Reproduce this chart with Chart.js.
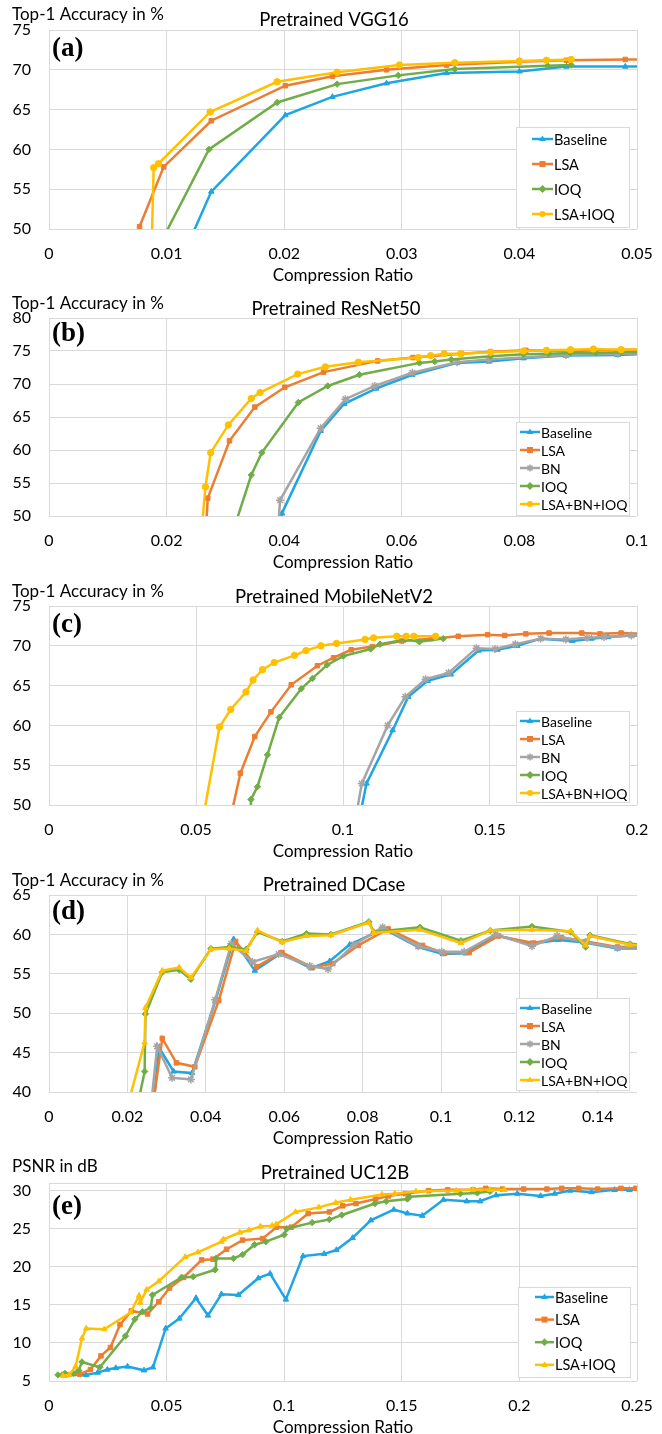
<!DOCTYPE html>
<html>
<head>
<meta charset="utf-8">
<script src="https://cdn.jsdelivr.net/npm/chart.js@4.4.0/dist/chart.umd.min.js"></script>
<style>
html, body { margin: 0; padding: 0; background: #fff; overflow: hidden; width: 662px; height: 1434px; }
canvas { position: absolute; left: 0; }
</style>
</head>
<body>
<canvas id="chartA" width="662" height="285" style="top:0px"></canvas>
<canvas id="chartB" width="662" height="284" style="top:288px"></canvas>
<canvas id="chartC" width="662" height="285" style="top:576px"></canvas>
<canvas id="chartD" width="662" height="283" style="top:865px"></canvas>
<canvas id="chartE" width="662" height="284" style="top:1153px"></canvas>
<script>
// ---- (a) VGG16 ----
const vggXTicks = [0, 0.01, 0.02, 0.03, 0.04, 0.05];
const vggYTicks = [50, 55, 60, 65, 70, 75];
const vggBaseline = [[0.0094,40],[0.0138,54.7],[0.0201,64.3],[0.0241,66.6],[0.0287,68.3],[0.0338,69.6],[0.0400,69.8],[0.0440,70.4],[0.0490,70.4],[0.0540,70.4]];
const vggLsa = [[0.0076,40],[0.0077,50.3],[0.00975,57.8],[0.0138,63.6],[0.0201,68.0],[0.0241,69.2],[0.0287,70.0],[0.0338,70.6],[0.0400,71.0],[0.0440,71.2],[0.0490,71.3],[0.0540,71.3]];
const vggIoq = [[0.0066,40],[0.0136,60.0],[0.0194,65.9],[0.0245,68.2],[0.0297,69.3],[0.0345,70.1],[0.0424,70.5],[0.0444,70.6]];
const vggLsaIoq = [[0.0086,40],[0.0089,57.7],[0.0093,58.2],[0.0137,64.7],[0.0194,68.5],[0.0245,69.7],[0.0298,70.6],[0.0345,70.9],[0.0400,71.1],[0.0423,71.2],[0.0444,71.3]];

// ---- (b) ResNet50 ----
const resXTicks = [0, 0.02, 0.04, 0.06, 0.08, 0.1];
const resYTicks = [50, 55, 60, 65, 70, 75, 80];
const resBaseline = [[0.0385,40],[0.0396,50.4],[0.0462,62.9],[0.0502,67.0],[0.0556,69.3],[0.0618,71.4],[0.0694,73.2],[0.0748,73.4],[0.0807,73.9],[0.0879,74.3],[0.0967,74.4],[0.105,74.7]];
const resLsa = [[0.0262,40],[0.0270,52.7],[0.0307,61.4],[0.0350,66.5],[0.0401,69.5],[0.0467,71.8],[0.0559,73.5],[0.0619,74.0],[0.0701,74.6],[0.0751,74.9],[0.0811,75.1],[0.0886,75.0],[0.0973,75.2],[0.105,75.2]];
const resBn = [[0.0383,40],[0.0393,52.4],[0.0462,63.3],[0.0504,67.7],[0.0554,69.7],[0.0618,71.7],[0.0694,73.3],[0.0748,73.7],[0.0879,74.4],[0.0967,74.6],[0.105,74.7]];
const resIoq = [[0.0285,40],[0.0344,56.2],[0.0362,59.6],[0.0424,67.2],[0.0474,69.7],[0.0528,71.4],[0.0630,73.2],[0.0656,73.4],[0.0684,73.7],[0.0751,74.2],[0.0807,74.5],[0.0850,74.6],[0.0887,74.7],[0.0930,74.7],[0.0973,74.8],[0.105,74.9]];
const resAll = [[0.0252,40],[0.0266,54.4],[0.0275,59.6],[0.0305,63.8],[0.0344,67.8],[0.0359,68.7],[0.0423,71.5],[0.0470,72.6],[0.0526,73.3],[0.0628,74.0],[0.0649,74.3],[0.0672,74.6],[0.0700,74.6],[0.0751,74.8],[0.0807,75.0],[0.0846,75.1],[0.0887,75.2],[0.0926,75.3],[0.0973,75.2],[0.105,75.3]];

// ---- (c) MobileNetV2 ----
const mobXTicks = [0, 0.05, 0.1, 0.15, 0.2];
const mobYTicks = [50, 55, 60, 65, 70, 75];
const mobBaseline = [[0.1010,40],[0.1080,52.7],[0.1169,59.4],[0.1222,63.6],[0.1288,65.6],[0.1367,66.4],[0.1461,69.4],[0.1525,69.5],[0.1593,70.0],[0.1672,70.9],[0.1780,70.6],[0.1845,70.9],[0.1902,71.1],[0.1981,71.3],[0.205,71.3]];
const mobLsa = [[0.0567,40],[0.0651,54.0],[0.0700,58.6],[0.0755,61.7],[0.0824,65.1],[0.0913,67.5],[0.0968,68.5],[0.1028,69.5],[0.1100,69.9],[0.1200,70.6],[0.1300,70.9],[0.1392,71.2],[0.1492,71.4],[0.1550,71.3],[0.1622,71.5],[0.1701,71.6],[0.1812,71.6],[0.1874,71.5],[0.1946,71.6],[0.205,71.5]];
const mobBn = [[0.1003,40],[0.1064,52.7],[0.1152,60.0],[0.1212,63.6],[0.1281,65.8],[0.1359,66.6],[0.1454,69.7],[0.1517,69.6],[0.1586,70.2],[0.1672,70.9],[0.1758,70.8],[0.1830,71.0],[0.1888,71.1],[0.1981,71.3],[0.205,71.3]];
const mobIoq = [[0.0683,40],[0.0687,50.7],[0.0709,52.3],[0.0743,56.3],[0.0783,61.0],[0.0858,64.6],[0.0896,65.9],[0.0946,67.6],[0.1001,68.7],[0.1094,69.6],[0.1126,70.2],[0.1212,70.8],[0.1260,70.5],[0.1341,70.9]];
const mobAll = [[0.0483,40],[0.0580,59.8],[0.0618,62.0],[0.0670,64.2],[0.0694,65.7],[0.0726,67.0],[0.0766,67.9],[0.0835,68.8],[0.0874,69.4],[0.0925,70.0],[0.0978,70.3],[0.1075,70.8],[0.1104,71.0],[0.1183,71.2],[0.1215,71.2],[0.1241,71.2],[0.1315,71.2]];

// ---- (d) DCase ----
const dcXTicks = [0, 0.02, 0.04, 0.06, 0.08, 0.1, 0.12, 0.14];
const dcYTicks = [40, 45, 50, 55, 60, 65];
const dcBaseline = [[0.0250,30],[0.0281,45.6],[0.0318,42.6],[0.0365,42.4],[0.0424,51.5],[0.0471,59.4],[0.0525,55.4],[0.0592,57.6],[0.0669,55.7],[0.0716,56.6],[0.0767,58.7],[0.0854,60.7],[0.0942,58.4],[0.1005,57.5],[0.1063,57.6],[0.1139,59.9],[0.1228,58.8],[0.1299,59.3],[0.1363,59.0],[0.1450,58.2],[0.155,58.2]];
const dcLsa = [[0.0242,30],[0.0289,46.8],[0.0325,43.7],[0.0372,43.2],[0.0433,51.6],[0.0476,59.1],[0.0530,55.9],[0.0594,57.7],[0.0672,55.8],[0.0724,56.3],[0.0789,58.6],[0.0865,60.7],[0.0953,58.6],[0.1009,57.6],[0.1072,57.7],[0.1147,59.8],[0.1236,58.9],[0.1307,59.6],[0.1371,59.1],[0.1450,58.4],[0.155,58.5]];
const dcBn = [[0.0243,30],[0.0276,45.8],[0.0314,41.8],[0.0362,41.6],[0.0424,51.7],[0.0465,58.8],[0.0519,56.5],[0.0586,57.5],[0.0665,56.0],[0.0712,55.6],[0.0778,58.7],[0.0851,60.9],[0.0942,58.5],[0.1002,57.8],[0.1059,57.8],[0.1139,60.0],[0.1232,58.5],[0.1296,59.8],[0.1369,59.0],[0.1450,58.3],[0.155,58.4]];
const dcIoq = [[0.0191,30],[0.0244,42.6],[0.0246,49.9],[0.0289,55.2],[0.0332,55.5],[0.0362,54.3],[0.0413,58.2],[0.0460,58.4],[0.0503,58.1],[0.0532,60.3],[0.0595,59.1],[0.0657,60.1],[0.0719,60.0],[0.0816,61.6],[0.0829,60.3],[0.0946,60.9],[0.1051,59.2],[0.1126,60.5],[0.1232,61.0],[0.1331,60.3],[0.1369,58.4],[0.1380,59.9],[0.1482,58.8],[0.155,58.6]];
const dcAll = [[0.0156,30],[0.0244,46.3],[0.0246,50.7],[0.0289,55.4],[0.0332,55.8],[0.0362,54.5],[0.0413,58.1],[0.0460,58.2],[0.0503,57.9],[0.0532,60.5],[0.0595,59.0],[0.0657,59.8],[0.0719,59.9],[0.0816,61.5],[0.0829,60.2],[0.0946,60.6],[0.1051,58.9],[0.1126,60.5],[0.1232,60.6],[0.1331,60.4],[0.1369,58.6],[0.1380,59.8],[0.1482,58.7],[0.155,58.5]];

// ---- (e) UC12B ----
const ucXTicks = [0, 0.05, 0.1, 0.15, 0.2, 0.25];
const ucYTicks = [5, 10, 15, 20, 25, 30, 31];
const ucBaseline = [[0.0056,5.8],[0.0158,5.8],[0.0207,6.1],[0.0248,6.5],[0.0284,6.7],[0.0334,6.9],[0.0404,6.4],[0.0442,6.8],[0.0496,11.9],[0.0554,13.2],[0.0625,15.9],[0.0676,13.6],[0.0733,16.4],[0.0805,16.3],[0.0890,18.5],[0.0940,19.1],[0.1007,15.7],[0.1080,21.4],[0.1170,21.7],[0.1222,22.2],[0.1291,23.8],[0.1368,26.1],[0.1466,27.5],[0.1524,27.0],[0.1587,26.7],[0.1677,28.8],[0.1776,28.6],[0.1833,28.6],[0.1901,29.4],[0.1991,29.6],[0.2090,29.3],[0.2150,29.6],[0.2216,30.0],[0.2306,29.8],[0.2405,30.1],[0.2468,30.1],[0.255,30.2]];
const ucLsa = [[0.0068,5.8],[0.0131,5.9],[0.0176,6.5],[0.0221,8.3],[0.0261,9.4],[0.0302,12.4],[0.0350,14.2],[0.0419,13.8],[0.0467,15.4],[0.0512,17.2],[0.0572,18.6],[0.0649,20.9],[0.0697,21.0],[0.0755,22.3],[0.0823,23.5],[0.0908,23.7],[0.0967,25.2],[0.1030,25.2],[0.1102,27.0],[0.1192,27.2],[0.1249,28.0],[0.1305,28.3],[0.1389,28.9],[0.1443,29.3],[0.1515,29.6],[0.1614,30.0],[0.1695,30.1],[0.1803,30.1],[0.1857,30.3],[0.1928,30.2],[0.2018,30.2],[0.2117,30.2],[0.2180,30.3],[0.2252,30.3],[0.2333,30.2],[0.2432,30.3],[0.2495,30.3],[0.255,30.3]];
const ucIoq = [[0.0038,5.8],[0.0068,6.0],[0.0104,6.0],[0.0126,6.4],[0.0140,7.5],[0.0216,6.8],[0.0325,10.9],[0.0365,13.1],[0.0397,14.1],[0.0433,14.6],[0.0440,16.3],[0.0563,18.6],[0.0613,18.7],[0.0706,19.6],[0.0710,21.1],[0.0784,21.1],[0.0823,21.6],[0.0874,22.9],[0.0922,23.3],[0.1000,24.2],[0.1011,25.0],[0.1119,25.8],[0.1192,26.2],[0.1245,26.8],[0.1386,28.3],[0.1434,28.6],[0.1524,28.9],[0.1533,29.2],[0.1749,29.6],[0.1821,29.7],[0.1875,29.9]];
const ucLsaIoq = [[0.0059,5.7],[0.0086,5.8],[0.0113,6.9],[0.0140,10.6],[0.0158,11.9],[0.0235,11.8],[0.0347,14.0],[0.0383,16.2],[0.0388,15.3],[0.0415,17.0],[0.0467,18.1],[0.0579,21.3],[0.0633,21.9],[0.0733,23.3],[0.0742,23.6],[0.0811,24.5],[0.0850,24.8],[0.0899,25.3],[0.0949,25.4],[0.0967,25.6],[0.1048,27.2],[0.1147,27.8],[0.1219,28.4],[0.1282,28.8],[0.1416,29.5],[0.1470,29.6],[0.1560,29.9],[0.1731,30.0],[0.1803,30.1],[0.1875,30.1],[0.1937,30.1]];

const FONT = "Lato, 'Open Sans', sans-serif";
const TEXT = '#000';
const BLUE = '#1ea5e3', ORANGE = '#ed7d31', GRAY = '#a5a5a5', GREEN = '#70ad47', YELLOW = '#ffc000';

Chart.defaults.font.family = FONT;
Chart.defaults.color = TEXT;

function fmt(v) {
  return String(Math.round(v * 1000) / 1000);
}

function series(label, points, color, style) {
  return {
    label: label,
    data: points.map(p => ({ x: p[0], y: p[1] })),
    borderColor: color,
    backgroundColor: color,
    pointBackgroundColor: color,
    pointBorderColor: color,
    pointStyle: style,
    pointRadius: style === 'star' ? 4 : 3.2,
    pointBorderWidth: style === 'star' ? 1.5 : 1,
    borderWidth: 2.5,
    tension: 0
  };
}

function drawMarker(ctx, style, x, y, r, color) {
  ctx.save();
  ctx.fillStyle = color;
  ctx.strokeStyle = color;
  ctx.lineWidth = 1.5;
  ctx.beginPath();
  if (style === 'triangle') {
    ctx.moveTo(x, y - r * 1.2);
    ctx.lineTo(x + r * 1.1, y + r * 0.7);
    ctx.lineTo(x - r * 1.1, y + r * 0.7);
    ctx.closePath();
    ctx.fill();
  } else if (style === 'rect') {
    ctx.rect(x - r, y - r, 2 * r, 2 * r);
    ctx.fill();
  } else if (style === 'rectRot') {
    ctx.moveTo(x, y - r * 1.3);
    ctx.lineTo(x + r * 1.3, y);
    ctx.lineTo(x, y + r * 1.3);
    ctx.lineTo(x - r * 1.3, y);
    ctx.closePath();
    ctx.fill();
  } else if (style === 'star') {
    const s = r * 1.2;
    ctx.moveTo(x - s, y); ctx.lineTo(x + s, y);
    ctx.moveTo(x, y - s); ctx.lineTo(x, y + s);
    ctx.moveTo(x - s * 0.7, y - s * 0.7); ctx.lineTo(x + s * 0.7, y + s * 0.7);
    ctx.moveTo(x - s * 0.7, y + s * 0.7); ctx.lineTo(x + s * 0.7, y - s * 0.7);
    ctx.stroke();
  } else {
    ctx.arc(x, y, r, 0, Math.PI * 2);
    ctx.fill();
  }
  ctx.restore();
}

// legend box drawn inside the plot area
const insideLegend = {
  id: 'insideLegend',
  afterDraw(chart, args, o) {
    const ctx = chart.ctx;
    ctx.save();
    ctx.fillStyle = '#fff';
    ctx.fillRect(o.x, o.y, o.w, o.h);
    ctx.strokeStyle = '#d9d9d9';
    ctx.lineWidth = 1;
    ctx.strokeRect(o.x + 0.5, o.y + 0.5, o.w, o.h);
    ctx.font = o.fontSize + 'px ' + FONT;
    ctx.textBaseline = 'middle';
    ctx.textAlign = 'left';
    chart.data.datasets.forEach((ds, i) => {
      const y = o.rowY + i * o.rowGap;
      ctx.strokeStyle = ds.borderColor;
      ctx.lineWidth = 2.5;
      ctx.beginPath();
      ctx.moveTo(o.lineX, y);
      ctx.lineTo(o.lineX + o.lineW, y);
      ctx.stroke();
      drawMarker(ctx, ds.pointStyle, o.lineX + o.lineW / 2, y, 3, ds.borderColor);
      ctx.fillStyle = TEXT;
      ctx.fillText(ds.label, o.lineX + o.lineW + 1, y + 1);
    });
    ctx.restore();
  }
};

// axis unit label, chart title and panel letter
const panelText = {
  id: 'panelText',
  afterDraw(chart, args, o) {
    const ctx = chart.ctx;
    ctx.save();
    ctx.fillStyle = TEXT;
    ctx.textBaseline = 'middle';
    ctx.textAlign = 'left';
    ctx.font = '17px ' + FONT;
    ctx.fillText(o.yLabel, 12, o.yLabelY);
    ctx.textAlign = 'center';
    ctx.font = '18.5px ' + FONT;
    ctx.fillText(o.title, o.titleX, o.titleY);
    ctx.textAlign = 'left';
    ctx.font = "bold 27px 'Liberation Serif', 'DejaVu Serif', serif";
    ctx.fillText(o.letter, 52, o.letterY);
    ctx.restore();
  }
};

function makeChart(id, datasets, cfg) {
  datasets.forEach((d, i) => { d.order = datasets.length - i; });
  return new Chart(document.getElementById(id), {
    type: 'line',
    data: { datasets: datasets },
    options: {
      responsive: false,
      animation: false,
      events: [],
      layout: { padding: { top: 30, right: 25, left: 0, bottom: 0 } },
      scales: {
        x: {
          type: 'linear',
          min: 0,
          max: cfg.xMax,
          afterBuildTicks: s => { s.ticks = cfg.xTicks.map(v => ({ value: v })); },
          afterFit: s => { s.height = 56; s.paddingLeft = 0; s.paddingRight = 0; },
          grid: { color: '#d9d9d9', lineWidth: 1, drawTicks: false },
          border: { display: false },
          ticks: { padding: 15, font: { size: 16 }, maxRotation: 0, callback: v => fmt(v) },
          title: { display: true, text: 'Compression Ratio', font: { size: 17, lineHeight: 1.2 }, padding: { top: 0, bottom: -1 } }
        },
        y: {
          type: 'linear',
          min: cfg.yMin,
          max: cfg.yMax,
          afterBuildTicks: s => { s.ticks = cfg.yTicks.map(v => ({ value: v })); },
          afterFit: s => { s.width = 49; s.paddingTop = 0; s.paddingBottom = 0; },
          grid: { color: '#d9d9d9', lineWidth: 1, drawTicks: false },
          border: { display: false },
          ticks: { padding: 18, font: { size: 16 }, callback: v => (v % 5 === 0 ? String(v) : '') }
        }
      },
      plugins: {
        legend: { display: false },
        tooltip: { enabled: false },
        insideLegend: cfg.legend,
        panelText: cfg.text
      }
    },
    plugins: [insideLegend, panelText]
  });
}

makeChart('chartA', [
  series('Baseline', vggBaseline, BLUE, 'triangle'),
  series('LSA', vggLsa, ORANGE, 'rect'),
  series('IOQ', vggIoq, GREEN, 'rectRot'),
  series('LSA+IOQ', vggLsaIoq, YELLOW, 'circle')
], {
  xMax: 0.05, yMin: 50, yMax: 75, xTicks: vggXTicks, yTicks: vggYTicks,
  legend: { x: 516, y: 127, w: 113, h: 100, rowY: 139, rowGap: 25, lineX: 532, lineW: 21, fontSize: 14.5 },
  text: { yLabel: 'Top-1 Accuracy in %', yLabelY: 15, title: 'Pretrained VGG16', titleX: 334, titleY: 20, letter: '(a)', letterY: 49 }
});

makeChart('chartB', [
  series('Baseline', resBaseline, BLUE, 'triangle'),
  series('LSA', resLsa, ORANGE, 'rect'),
  series('BN', resBn, GRAY, 'star'),
  series('IOQ', resIoq, GREEN, 'rectRot'),
  series('LSA+BN+IOQ', resAll, YELLOW, 'circle')
], {
  xMax: 0.1, yMin: 50, yMax: 80, xTicks: resXTicks, yTicks: resYTicks,
  legend: { x: 516, y: 134, w: 113, h: 93, rowY: 144, rowGap: 18, lineX: 520, lineW: 20, fontSize: 14 },
  text: { yLabel: 'Top-1 Accuracy in %', yLabelY: 16, title: 'Pretrained ResNet50', titleX: 336, titleY: 21, letter: '(b)', letterY: 46 }
});

makeChart('chartC', [
  series('Baseline', mobBaseline, BLUE, 'triangle'),
  series('LSA', mobLsa, ORANGE, 'rect'),
  series('BN', mobBn, GRAY, 'star'),
  series('IOQ', mobIoq, GREEN, 'rectRot'),
  series('LSA+BN+IOQ', mobAll, YELLOW, 'circle')
], {
  xMax: 0.2, yMin: 50, yMax: 75, xTicks: mobXTicks, yTicks: mobYTicks,
  legend: { x: 516, y: 135, w: 113, h: 91, rowY: 145, rowGap: 18, lineX: 520, lineW: 20, fontSize: 14 },
  text: { yLabel: 'Top-1 Accuracy in %', yLabelY: 16, title: 'Pretrained MobileNetV2', titleX: 334, titleY: 21, letter: '(c)', letterY: 49 }
});

makeChart('chartD', [
  series('Baseline', dcBaseline, BLUE, 'triangle'),
  series('LSA', dcLsa, ORANGE, 'rect'),
  series('BN', dcBn, GRAY, 'star'),
  series('IOQ', dcIoq, GREEN, 'rectRot'),
  series('LSA+BN+IOQ', dcAll, YELLOW, 'triangle')
], {
  xMax: 0.15, yMin: 40, yMax: 65, xTicks: dcXTicks, yTicks: dcYTicks,
  legend: { x: 516, y: 133, w: 113, h: 92, rowY: 143, rowGap: 18, lineX: 520, lineW: 20, fontSize: 14 },
  text: { yLabel: 'Top-1 Accuracy in %', yLabelY: 16, title: 'Pretrained DCase', titleX: 334, titleY: 20, letter: '(d)', letterY: 47 }
});

makeChart('chartE', [
  series('Baseline', ucBaseline, BLUE, 'triangle'),
  series('LSA', ucLsa, ORANGE, 'rect'),
  series('IOQ', ucIoq, GREEN, 'rectRot'),
  series('LSA+IOQ', ucLsaIoq, YELLOW, 'triangle')
], {
  xMax: 0.25, yMin: 5, yMax: 31, xTicks: ucXTicks, yTicks: ucYTicks,
  legend: { x: 518, y: 134, w: 112, h: 90, rowY: 144, rowGap: 22.6, lineX: 535, lineW: 19, fontSize: 14.5 },
  text: { yLabel: 'PSNR in dB', yLabelY: 14, title: 'Pretrained UC12B', titleX: 335, titleY: 20, letter: '(e)', letterY: 54 }
});
</script>
</body>
</html>
